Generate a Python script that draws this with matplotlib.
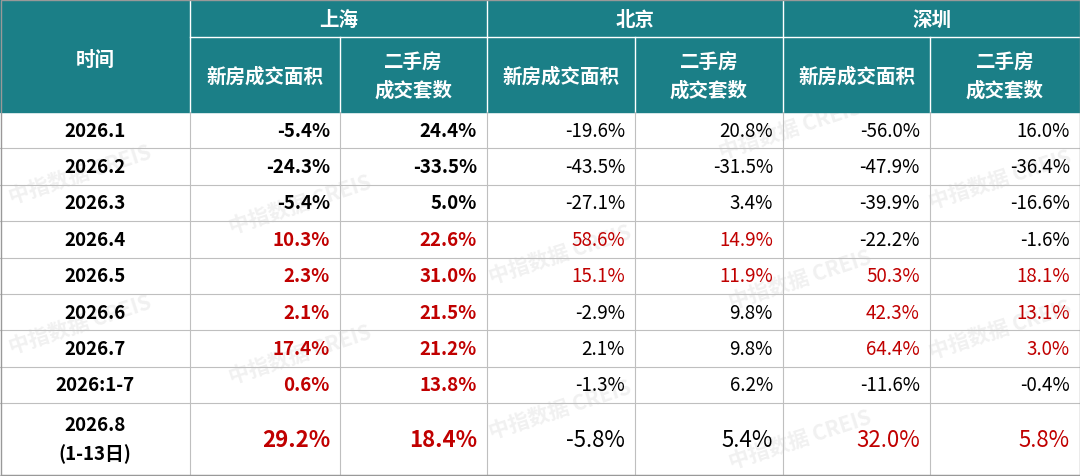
import matplotlib
matplotlib.use("Agg")
import matplotlib.pyplot as plt
from matplotlib.patches import Rectangle

plt.rcParams['font.family'] = ['Noto Sans CJK SC', 'DejaVu Sans']

cities = ["上海", "北京", "深圳"]
subheads = ["新房成交面积", "二手房\n成交套数"]
periods = ["2026.1", "2026.2", "2026.3", "2026.4", "2026.5", "2026.6", "2026.7", "2026:1-7", "2026.8\n(1-13日)"]
sh_new = ["-5.4%", "-24.3%", "-5.4%", "10.3%", "2.3%", "2.1%", "17.4%", "0.6%", "29.2%"]
sh_sec = ["24.4%", "-33.5%", "5.0%", "22.6%", "31.0%", "21.5%", "21.2%", "13.8%", "18.4%"]
bj_new = ["-19.6%", "-43.5%", "-27.1%", "58.6%", "15.1%", "-2.9%", "2.1%", "-1.3%", "-5.8%"]
bj_sec = ["20.8%", "-31.5%", "3.4%", "14.9%", "11.9%", "9.8%", "9.8%", "6.2%", "5.4%"]
sz_new = ["-56.0%", "-47.9%", "-39.9%", "-22.2%", "50.3%", "42.3%", "64.4%", "-11.6%", "32.0%"]
sz_sec = ["16.0%", "-36.4%", "-16.6%", "-1.6%", "18.1%", "13.1%", "3.0%", "-0.4%", "5.8%"]
# 1 = red highlight
sh_new_red = [0, 0, 0, 1, 1, 1, 1, 1, 1]
sh_sec_red = [0, 0, 0, 1, 1, 1, 1, 1, 1]
bj_new_red = [0, 0, 0, 1, 1, 0, 0, 0, 0]
bj_sec_red = [0, 0, 0, 1, 1, 0, 0, 0, 0]
sz_new_red = [0, 0, 0, 0, 1, 1, 1, 0, 1]
sz_sec_red = [0, 0, 0, 0, 1, 1, 1, 0, 1]

cols = [sh_new, sh_sec, bj_new, bj_sec, sz_new, sz_sec]
reds = [sh_new_red, sh_sec_red, bj_new_red, bj_sec_red, sz_new_red, sz_sec_red]

W, H = 1080, 477
fig = plt.figure(figsize=(W/100, H/100), dpi=100)
ax = fig.add_axes([0, 0, 1, 1])
ax.set_xlim(0, W); ax.set_ylim(H, 0); ax.axis('off')

teal = "#1b7f87"
red = "#c00000"
xs = [0, 190, 340, 487, 635, 783, 930, 1080]
rh = 36.4
tops = [113 + i*rh for i in range(9)]
bots = tops[1:] + [476]

ax.add_patch(Rectangle((0, 0), W, 113, color=teal, zorder=1))
ax.plot([190, 1080], [38, 38], color='white', lw=1, zorder=2)
for x in [190, 487, 783]:
    ax.plot([x, x], [0, 113], color='white', lw=1, zorder=2)
for x in [340, 635, 930]:
    ax.plot([x, x], [38, 113], color='white', lw=1, zorder=2)

ax.text(95, 60, "时间", color='white', fontsize=14, fontweight='bold', ha='center', va='center')
for i, c in enumerate(cities):
    ax.text((xs[1+2*i] + xs[3+2*i]) / 2, 20, c, color='white', fontsize=14, fontweight='bold', ha='center', va='center')
    for j in range(2):
        xc = (xs[1+2*i+j] + xs[2+2*i+j]) / 2
        ax.text(xc, 77, subheads[j], color='white', fontsize=14, fontweight='bold', ha='center', va='center', linespacing=1.5)

for r in range(9):
    t, b = tops[r], bots[r]
    yc = (t + b) / 2
    ax.plot([0, W], [b, b], color='#bfbfbf', lw=0.8, zorder=2)
    last = r == 8
    ax.text(95, yc, periods[r], fontsize=13.5, fontweight='bold', ha='center', va='center', linespacing=1.6)
    for k in range(6):
        color = red if reds[k][r] else 'black'
        fw = 'bold' if k < 2 else 'normal'
        fs = 16 if last else 13.5
        ax.text(xs[k+2] - 10, yc, cols[k][r], fontsize=fs, fontweight=fw, color=color, ha='right', va='center')

for x in xs[1:-1]:
    ax.plot([x, x], [113, 476], color='#bfbfbf', lw=0.8, zorder=2)
ax.add_patch(Rectangle((0.5, 0.5), W-1, H-1.5, fill=False, ec='#999999', lw=1, zorder=3))

for (x, y) in [(80, 175), (300, 205), (560, 255), (800, 280), (80, 325), (300, 355), (560, 410), (800, 440), (1000, 180), (1000, 330), (790, 130)]:
    ax.text(x, y, "中指数据 CREIS", fontsize=15, fontweight='bold', color='#888888', alpha=0.12,
            rotation=18, ha='center', va='center', zorder=0)

fig.savefig("out.png", dpi=100)
